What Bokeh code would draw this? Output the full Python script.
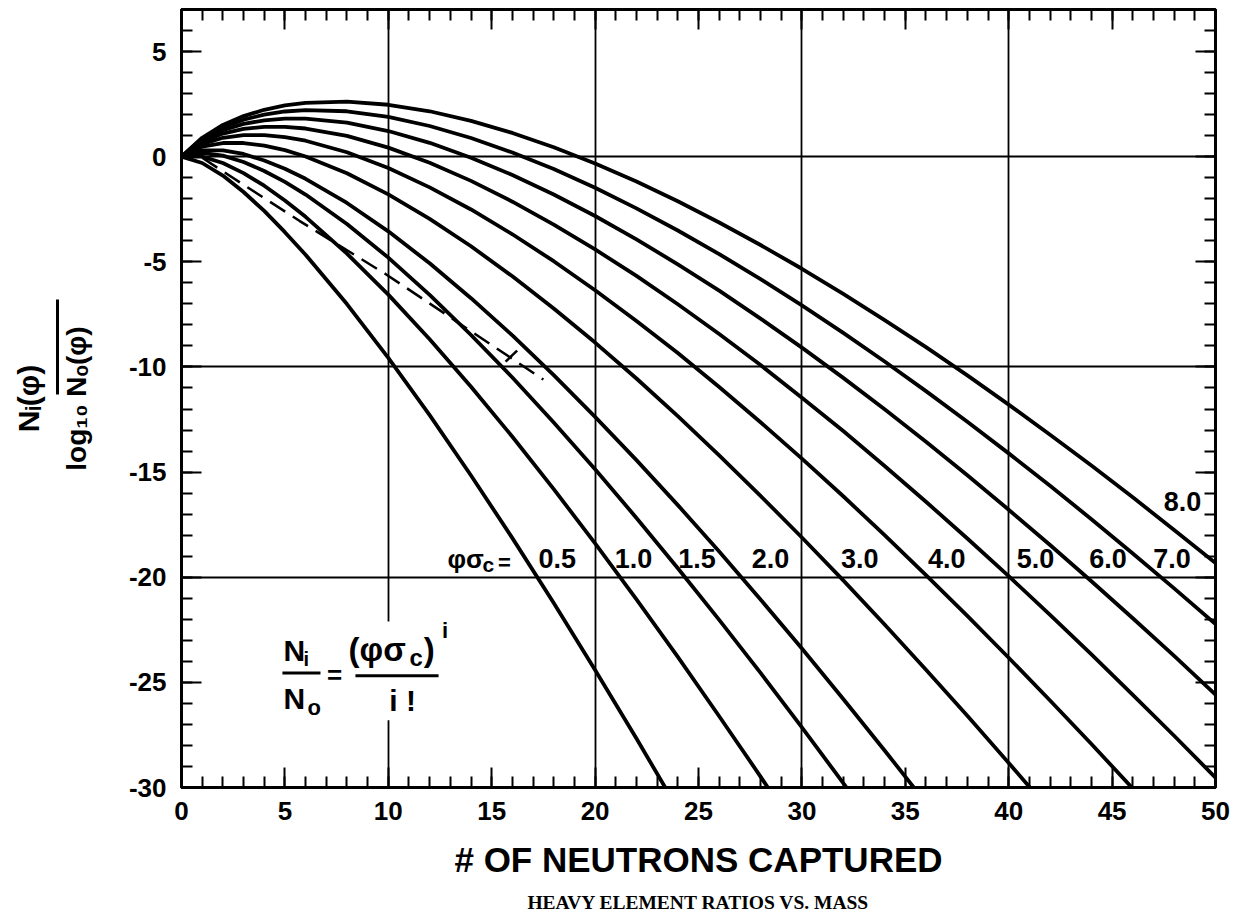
import numpy as np
from bokeh.plotting import figure
from bokeh.models import (Range1d, LinearAxis, SingleIntervalTicker, FixedTicker,
                          Label, BoxAnnotation, Title, PrintfTickFormatter)
from bokeh.embed import file_html
from bokeh.resources import INLINE

# ---------------- data ----------------
neutrons = [0, 1, 2, 3, 4, 5, 6, 8, 10, 12, 14, 16, 18, 20, 22, 24, 26, 28, 30,
            32, 34, 36, 38, 40, 42, 44, 46, 48, 50]

phi_sigma = ["0.5", "1.0", "1.5", "2.0", "3.0", "4.0", "5.0", "6.0", "7.0", "8.0"]

log_ratio_05 = [0, -0.30, -0.90, -1.68, -2.58, -3.59, -4.66, -7.01, -9.57, -12.29,
                -15.16, -18.14, -21.23, -24.41, -27.67, -31.02]
log_ratio_10 = [0, 0, -0.30, -0.78, -1.38, -2.08, -2.86, -4.61, -6.56, -8.68,
                -10.94, -13.32, -15.81, -18.39, -21.05, -23.79, -26.61, -29.48, -32.42]
log_ratio_15 = [0, 0.18, 0.05, -0.25, -0.68, -1.20, -1.80, -3.20, -4.80, -6.57,
                -8.48, -10.50, -12.64, -14.86, -17.18, -19.57, -22.03, -24.55, -27.14,
                -29.79, -32.48]
log_ratio_20 = [0, 0.30, 0.30, 0.13, -0.18, -0.57, -1.05, -2.20, -3.55, -5.07,
                -6.73, -8.50, -10.39, -12.37, -14.43, -16.57, -18.78, -21.06, -23.39,
                -25.79, -28.24, -30.73]
log_ratio_30 = [0, 0.48, 0.65, 0.65, 0.53, 0.31, 0.01, -0.79, -1.79, -2.96,
                -4.26, -5.69, -7.22, -8.84, -10.55, -12.34, -14.20, -16.13, -18.11,
                -20.15, -22.25, -24.40, -26.59, -28.83, -31.11]
log_ratio_40 = [0, 0.60, 0.90, 1.03, 1.03, 0.93, 0.76, 0.21, -0.54, -1.46,
                -2.51, -3.69, -4.97, -6.35, -7.81, -9.34, -10.95, -12.63, -14.36,
                -16.15, -18.00, -19.90, -21.84, -23.83, -25.86, -27.93, -30.05, -32.20]
log_ratio_50 = [0, 0.70, 1.10, 1.32, 1.42, 1.42, 1.34, 0.99, 0.43, -0.29,
                -1.15, -2.14, -3.23, -4.41, -5.67, -7.02, -8.43, -9.91, -11.46,
                -13.05, -14.71, -16.41, -18.16, -19.95, -21.79, -23.67, -25.59, -27.54,
                -29.53]
log_ratio_60 = [0, 0.78, 1.26, 1.56, 1.73, 1.81, 1.81, 1.62, 1.22, 0.66,
                -0.05, -0.87, -1.80, -2.82, -3.93, -5.12, -6.37, -7.70, -9.08,
                -10.52, -12.01, -13.56, -15.15, -16.79, -18.47, -20.19, -21.95, -23.74,
                -25.58]
log_ratio_70 = [0, 0.85, 1.39, 1.76, 2.00, 2.15, 2.21, 2.16, 1.89, 1.46,
                0.89, 0.20, -0.59, -1.48, -2.46, -3.51, -4.63, -5.82, -7.07,
                -8.38, -9.74, -11.15, -12.61, -14.11, -15.65, -17.24, -18.87, -20.53,
                -22.23]
log_ratio_80 = [0, 0.90, 1.51, 1.93, 2.23, 2.44, 2.56, 2.62, 2.47, 2.16,
                1.70, 1.13, 0.45, -0.32, -1.18, -2.12, -3.13, -4.20, -5.33,
                -6.52, -7.77, -9.06, -10.40, -11.79, -13.22, -14.69, -16.20, -17.75,
                -19.33]

all_curves = [log_ratio_05, log_ratio_10, log_ratio_15, log_ratio_20, log_ratio_30,
              log_ratio_40, log_ratio_50, log_ratio_60, log_ratio_70, log_ratio_80]

# dashed locus and its small cross mark
locus_x = [1.0, 3.1, 5.7, 9.9, 15.9, 17.5]
locus_y = [-0.05, -1.4, -3.05, -5.6, -9.55, -10.6]
mark_x = [15.67, 16.23]
mark_y = [-9.75, -9.22]

# curve labels (phi*sigma_c values), vertical centres
curve_label_text = phi_sigma
curve_label_x = [18.17, 21.86, 24.93, 28.48, 32.8, 37.0, 41.3, 44.8, 47.9, 48.4]
curve_label_y = [-19.1, -19.1, -19.1, -19.1, -19.1, -19.1, -19.1, -19.1, -19.1, -16.41]

x_title = "# OF NEUTRONS CAPTURED"
y_title_den = "log\u2081\u2080 N\u2092(\u03c6)"
y_title_num = "N\u1d62(\u03c6)"
caption = "HEAVY ELEMENT RATIOS VS. MASS"

SANS = "Liberation Sans"
SERIF = "Liberation Serif"

# ---------------- figure ----------------
p = figure(width=1241, height=921, x_range=Range1d(0, 50), y_range=Range1d(-30, 7),
           output_backend="svg", toolbar_location=None, title=None,
           min_border_left=181, min_border_right=26, min_border_top=9,
           min_border_bottom=132)
p.background_fill_color = "white"
p.border_fill_color = "white"
p.outline_line_color = "black"
p.outline_line_width = 2.8

bottom_axis = p.below[0]
left_axis = p.left[0]
bottom_axis.ticker = SingleIntervalTicker(interval=5, num_minor_ticks=5)
left_axis.ticker = SingleIntervalTicker(interval=5, num_minor_ticks=5)
left_axis.formatter = PrintfTickFormatter(format="%d")

top_axis = LinearAxis(ticker=SingleIntervalTicker(interval=5, num_minor_ticks=5))
right_axis = LinearAxis(ticker=SingleIntervalTicker(interval=5, num_minor_ticks=5))
p.add_layout(top_axis, "above")
p.add_layout(right_axis, "right")

for ax in [bottom_axis, left_axis, top_axis, right_axis]:
    ax.axis_line_color = "black"
    ax.axis_line_width = 2.8
    ax.major_tick_in = 20
    ax.major_tick_out = 0
    ax.minor_tick_in = 11
    ax.minor_tick_out = 0
    ax.major_tick_line_color = "black"
    ax.minor_tick_line_color = "black"
    ax.major_tick_line_width = 2
    ax.minor_tick_line_width = 2
    ax.major_label_text_font = SANS
    ax.major_label_text_font_style = "bold"
    ax.major_label_text_font_size = "26px"
    ax.major_label_text_color = "black"

for ax in [top_axis, right_axis]:
    ax.major_label_text_color = None
    ax.major_label_text_font_size = "1px"
    ax.major_label_standoff = 0

bottom_axis.major_label_standoff = 14
left_axis.major_label_standoff = 15

bottom_axis.axis_label = x_title
bottom_axis.axis_label_text_font = SANS
bottom_axis.axis_label_text_font_style = "bold"
bottom_axis.axis_label_text_font_size = "35px"
bottom_axis.axis_label_text_color = "black"
bottom_axis.axis_label_standoff = 17

# y title built from two label-only axes: denominator (with log10) and the
# fraction bar carrying the numerator
den_axis = LinearAxis(ticker=FixedTicker(ticks=[]), bounds=(-13.36, -9.84),
                      axis_line_color=None, major_tick_out=0, minor_tick_out=0,
                      major_label_standoff=0, axis_label=y_title_den,
                      axis_label_standoff=34, axis_label_text_font=SANS,
                      axis_label_text_font_style="bold",
                      axis_label_text_font_size="28px",
                      axis_label_text_color="black")
num_axis = LinearAxis(ticker=FixedTicker(ticks=[]), bounds=(-11.31, -6.81),
                      axis_line_color="black", axis_line_width=3,
                      major_tick_out=0, minor_tick_out=0,
                      major_label_standoff=0, axis_label=y_title_num,
                      axis_label_standoff=13, axis_label_text_font=SANS,
                      axis_label_text_font_style="bold",
                      axis_label_text_font_size="30px",
                      axis_label_text_color="black")
p.add_layout(den_axis, "left")
p.add_layout(num_axis, "left")

p.add_layout(Title(text=caption, align="center", text_font=SERIF,
                   text_font_size="19.5px", text_font_style="bold",
                   text_color="black", standoff=17), "below")

p.xgrid.ticker = FixedTicker(ticks=[10, 20, 30, 40])
p.ygrid.ticker = FixedTicker(ticks=[0, -10, -20])
for g in [p.xgrid[0], p.ygrid[0]]:
    g.grid_line_color = "black"
    g.grid_line_width = 1.8
    g.grid_line_alpha = 1.0

# white gap in the x=10 grid line behind the formula
p.add_layout(BoxAnnotation(left=9.45, right=10.55, top=-22.1, bottom=-26.8,
                           fill_color="white", fill_alpha=1.0, line_color=None,
                           level="underlay"))

# ---------------- curves ----------------
for vals in all_curves:
    p.line(neutrons[:len(vals)], vals, line_color="black", line_width=3.8,
           line_join="round", line_cap="round")

p.line(locus_x, locus_y, line_color="black", line_width=2.5, line_dash="18 9")
p.line(mark_x, mark_y, line_color="black", line_width=2.5)


def lab(x, y, t, size, align="left", font=SANS):
    p.add_layout(Label(x=x, y=y, text=t, text_font=font, text_font_style="bold",
                       text_font_size=size, text_align=align, text_baseline="middle",
                       text_color="black"))


# ---------------- curve labels ----------------
for t, x, y in zip(curve_label_text, curve_label_x, curve_label_y):
    lab(x, y, t, "27px", align="center")

# "φσc =" prefix
lab(12.86, -19.15, "φσ", "26px")
lab(14.55, -19.4, "c", "21px")
lab(15.3, -19.3, "=", "22px")

# formula  Ni/No = (φσc)^i / i!
lab(4.93, -23.5, "N", "30px")
lab(5.90, -23.88, "i", "20px")
lab(4.93, -25.76, "N", "30px")
lab(6.09, -26.19, "o", "22px")
lab(7.4, -24.67, "=", "26px", align="center")
lab(8.08, -23.45, "(φσ", "33px")
lab(11.03, -23.84, "c", "24px")
lab(11.72, -23.45, ")", "33px")
lab(12.6, -22.51, "i", "22px")
lab(10.69, -25.88, "i !", "30px", align="center")
p.segment(x0=[4.88, 8.41], y0=[-24.55, -24.69], x1=[6.72, 12.43], y1=[-24.55, -24.69],
          line_color="black", line_width=3)

open("out.html", "w").write(file_html(p, INLINE))
